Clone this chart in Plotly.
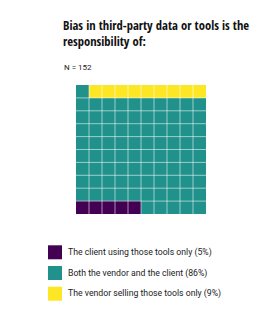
import plotly.graph_objects as go

categories = ["The client using those tools only", "Both the vendor and the client", "The vendor selling those tools only"]
percents = [5, 86, 9]
colors = ["#440154", "#21918c", "#fde725"]
n_label = "N = 152"
title = "Bias in third-party data or tools is the<br>responsibility of:"

# Build 10x10 waffle: client fills from bottom-left, vendor fills from top-right, both in between
grid = [[1] * 10 for _ in range(10)]  # row 0 = bottom
for k in range(percents[0]):
    r, c = divmod(k, 10)
    grid[r][c] = 0
for k in range(percents[2]):
    r, c = divmod(k, 10)
    grid[9 - r][9 - c] = 2

FONT = "Roboto, sans-serif"
TITLE_FONT = "Open Sans Condensed, Roboto, sans-serif"
OFF = 8  # page body margin offset
W, H = 274 - OFF, 329 - OFF
L, T = 76 - OFF, 85 - OFF
R, B = W - (206 - OFF), H - (214 - OFF)
PW, PH = W - L - R, H - T - B


def px_x(x):
    return (x - OFF - L) / PW


def px_y(y):
    return (H - B - (y - OFF)) / PH


fig = go.Figure()
fig.add_trace(go.Heatmap(
    z=grid,
    x=list(range(10)), y=list(range(10)),
    zmin=0, zmax=2,
    colorscale=[[0, colors[0]], [0.3333, colors[0]], [0.3334, colors[1]], [0.6666, colors[1]], [0.6667, colors[2]], [1, colors[2]]],
    showscale=False, hoverinfo="skip",
))

for i in range(1, 10):
    fig.add_shape(type="line", x0=i - 0.5, x1=i - 0.5, y0=-0.5, y1=9.5, line=dict(color="rgba(255,255,255,0.55)", width=1), layer="above")
    fig.add_shape(type="line", y0=i - 0.5, y1=i - 0.5, x0=-0.5, x1=9.5, line=dict(color="rgba(255,255,255,0.55)", width=1), layer="above")

annotations = [dict(text=n_label, x=px_x(62), y=px_y(67.5), xref="paper", yref="paper",
                    showarrow=False, xanchor="left", yanchor="middle",
                    font=dict(size=8, family=FONT, color="#222222"))]

# manual legend
row_y = [252.3, 273, 293.7]
for cat, p, col, yc in zip(categories, percents, colors, row_y):
    fig.add_shape(type="rect", xref="paper", yref="paper",
                  x0=px_x(48), x1=px_x(62), y0=px_y(yc - 7), y1=px_y(yc + 7),
                  fillcolor=col, line=dict(width=0))
    annotations.append(dict(text=f"{cat} ({p}%)", x=px_x(66), y=px_y(yc), xref="paper", yref="paper",
                            showarrow=False, xanchor="left", yanchor="middle",
                            font=dict(size=8.7, family=FONT, color="#222222")))

fig.update_layout(
    width=W, height=H,
    margin=dict(l=L, r=R, t=T, b=B),
    paper_bgcolor="white", plot_bgcolor="white",
    font=dict(family=FONT, color="#222222"),
    title=dict(text=title, x=(63 - OFF) / W, xref="container", xanchor="left",
               y=1 - 22 / H, yref="container", yanchor="top",
               font=dict(family=TITLE_FONT, size=12.6, color="#111111", weight="bold")),
    xaxis=dict(range=[-0.5, 9.5], visible=False, fixedrange=True),
    yaxis=dict(range=[-0.5, 9.5], visible=False, fixedrange=True),
    showlegend=False,
    annotations=annotations,
)

fig.write_html("out.html")
